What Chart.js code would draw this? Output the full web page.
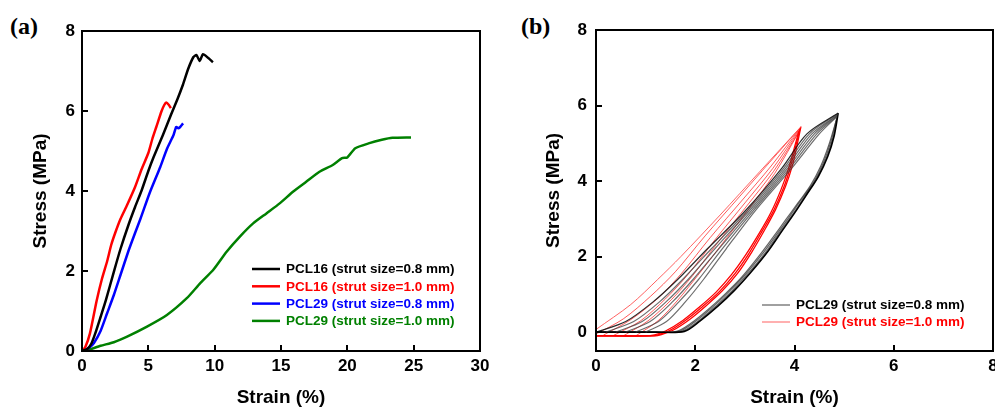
<!DOCTYPE html>
<html lang="en">
<head>
<meta charset="UTF-8">
<title>Stress-strain curves</title>
<script src="https://cdn.jsdelivr.net/npm/chart.js"></script>
<style>
  html, body { margin: 0; padding: 0; background: #fff; overflow: hidden; }
  body { width: 995px; height: 409px; position: relative; }
  .panel { position: absolute; top: 0; height: 409px; }
  #panelA { left: 0; width: 497px; }
  #panelB { left: 497px; width: 520px; }
  .tag { position: absolute; top: 13px; line-height: 24px;
         font: bold 24px "Liberation Serif", "Times New Roman", serif; color: #000; }
</style>
</head>
<body>
<div class="tag" style="left:10px">(a)</div>
<div class="tag" style="left:521px">(b)</div>
<div class="panel" id="panelA"><canvas id="chartA" width="497" height="409"></canvas></div>
<div class="panel" id="panelB"><canvas id="chartB" width="520" height="409"></canvas></div>
<script>
// ---- panel (a): monotonic compression, [strain %, stress MPa]
const labelsA = ['PCL16 (strut size=0.8 mm)', 'PCL16 (strut size=1.0 mm)',
                 'PCL29 (strut size=0.8 mm)', 'PCL29 (strut size=1.0 mm)'];
const pcl16_08 = [[0,0],[0.4,0.05],[0.7,0.18],[1.0,0.44],[1.4,0.85],[1.8,1.27],[2.4,1.98],[2.9,2.55],
  [3.5,3.15],[4.0,3.6],[4.5,4.02],[5.0,4.5],[5.4,4.85],[6.1,5.4],[6.7,5.9],[7.2,6.3],[7.6,6.65],
  [8.0,7.05],[8.4,7.35],[8.63,7.4],[8.87,7.25],[9.12,7.42],[9.5,7.33],[9.87,7.22]];
const pcl16_10 = [[0,0],[0.25,0.1],[0.6,0.44],[1.1,1.25],[1.5,1.8],[1.9,2.25],[2.2,2.65],[2.5,2.95],
  [2.9,3.3],[3.4,3.65],[4.0,4.1],[4.5,4.55],[5.0,4.95],[5.3,5.3],[5.6,5.6],[6.0,6.0],[6.2,6.15],
  [6.35,6.21],[6.55,6.15],[6.7,6.07]];
const pcl29_08 = [[0,0],[0.25,0.03],[0.6,0.1],[0.9,0.2],[1.4,0.5],[1.9,0.95],[2.4,1.4],[2.9,1.9],
  [3.5,2.5],[4.0,2.95],[4.4,3.3],[5.1,3.95],[5.9,4.6],[6.4,5.05],[6.9,5.4],[7.1,5.6],[7.25,5.57],
  [7.4,5.6],[7.62,5.69]];
const pcl29_10 = [[0,0],[0.4,0.02],[1.4,0.13],[2.4,0.22],[3.4,0.36],[4.9,0.61],[6.4,0.9],[7.9,1.32],
  [8.9,1.69],[9.9,2.03],[10.9,2.48],[11.9,2.86],[12.9,3.19],[13.9,3.44],[14.9,3.69],[15.9,3.98],
  [16.9,4.23],[17.9,4.48],[18.9,4.65],[19.6,4.82],[20.0,4.84],[20.6,5.07],[21.6,5.19],[22.6,5.28],
  [23.4,5.33],[24.8,5.34]];
const xTicksA = [0, 5, 10, 15, 20, 25, 30];
const yTicksA = [0, 2, 4, 6, 8];

// ---- panel (b): cyclic loading, PCL29, each cycle = rising branch + falling branch
const labelsB = ['PCL29 (strut size=0.8 mm)', 'PCL29 (strut size=1.0 mm)'];
const cyc08Up = [
  [[0,0],[0.6,0.28],[1.15,0.8],[1.65,1.4],[2.24,2.2],[3.0,3.2],[3.75,4.35],[4.25,5.25],[4.88,5.8]],
  [[0.2,0],[0.76,0.28],[1.28,0.8],[1.75,1.4],[2.32,2.2],[3.04,3.2],[3.79,4.35],[4.3,5.25],[4.87,5.78]],
  [[0.4,0],[0.93,0.28],[1.41,0.8],[1.86,1.4],[2.39,2.2],[3.08,3.2],[3.83,4.35],[4.35,5.25],[4.87,5.76]],
  [[0.6,0],[1.09,0.28],[1.54,0.8],[1.96,1.4],[2.47,2.2],[3.12,3.2],[3.87,4.35],[4.4,5.25],[4.86,5.74]],
  [[0.8,0],[1.26,0.28],[1.67,0.8],[2.07,1.4],[2.54,2.2],[3.16,3.2],[3.91,4.35],[4.45,5.25],[4.86,5.72]],
  [[1.0,0],[1.42,0.28],[1.8,0.8],[2.17,1.4],[2.62,2.2],[3.2,3.2],[3.95,4.35],[4.5,5.25],[4.85,5.7]]
];
const cyc08Down = [
  [[4.88,5.8],[4.8,5.2],[4.67,4.65],[4.48,4.12],[4.25,3.65],[4.0,3.15],[3.75,2.68],[3.47,2.15],
   [3.13,1.6],[2.8,1.12],[2.45,0.68],[2.1,0.3],[1.78,0.02],[1.2,0],[0,0]],
  [[4.86,5.72],[4.77,5.12],[4.63,4.57],[4.44,4.05],[4.2,3.58],[3.95,3.09],[3.69,2.62],[3.41,2.1],
   [3.07,1.56],[2.74,1.09],[2.39,0.66],[2.05,0.28],[1.73,0.02],[1.2,0],[0,0]],
  [[4.85,5.66],[4.73,5.03],[4.58,4.48],[4.38,3.96],[4.13,3.5],[3.88,3.02],[3.62,2.55],[3.34,2.05],
   [3.0,1.51],[2.67,1.06],[2.32,0.63],[1.98,0.26],[1.67,0.02],[1.1,0],[0,0]],
  [[4.84,5.6],[4.69,4.95],[4.53,4.4],[4.32,3.88],[4.07,3.42],[3.81,2.95],[3.55,2.48],[3.27,1.99],
   [2.94,1.46],[2.61,1.02],[2.26,0.6],[1.92,0.24],[1.62,0.02],[1.0,0],[0,0]]
];
const cyc10Up = [
  [[0,0.07],[0.7,0.73],[1.24,1.39],[1.71,2.0],[2.5,3.1],[3.3,4.25],[4.13,5.44]],
  [[0,-0.05],[0.55,0.35],[1.1,0.95],[1.6,1.6],[2.2,2.55],[2.9,3.6],[3.5,4.5],[4.12,5.42]],
  [[0.15,-0.08],[0.7,0.33],[1.25,0.9],[1.72,1.55],[2.3,2.5],[2.95,3.5],[3.53,4.4],[4.11,5.4]],
  [[0.35,-0.09],[0.9,0.3],[1.4,0.88],[1.85,1.52],[2.4,2.45],[3.0,3.42],[3.56,4.33],[4.1,5.36]],
  [[0.55,-0.1],[1.05,0.3],[1.52,0.86],[1.95,1.5],[2.47,2.4],[3.05,3.36],[3.58,4.26],[4.1,5.33]],
  [[0.8,-0.1],[1.25,0.3],[1.65,0.85],[2.05,1.5],[2.55,2.35],[3.1,3.3],[3.6,4.2],[4.09,5.3]]
];
const cyc10Down = [
  [[4.13,5.44],[4.06,5.0],[3.96,4.42],[3.82,3.86],[3.62,3.25],[3.4,2.71],[3.13,2.1],[2.86,1.57],
   [2.55,1.1],[2.22,0.7],[1.9,0.35],[1.55,0.05],[1.3,-0.07],[1.2,-0.1],[0,-0.1]],
  [[4.11,5.38],[4.03,4.95],[3.92,4.38],[3.78,3.82],[3.58,3.22],[3.35,2.68],[3.08,2.08],[2.8,1.55],
   [2.49,1.08],[2.15,0.68],[1.82,0.33],[1.48,0.04],[1.25,-0.07],[1.1,-0.1],[0,-0.1]],
  [[4.09,5.32],[4.0,4.9],[3.88,4.33],[3.73,3.78],[3.53,3.18],[3.3,2.64],[3.02,2.05],[2.73,1.52],
   [2.42,1.06],[2.08,0.66],[1.75,0.31],[1.4,0.03],[1.18,-0.07],[1.0,-0.1],[0,-0.1]]
];
const xTicksB = [0, 2, 4, 6, 8];
const yTicksB = [0, 2, 4, 6, 8];

const FONT = 'Arial, "Liberation Sans", sans-serif';
const tickFont = { family: FONT, size: 17, weight: 'bold' };
const titleFont = { family: FONT, size: 19, weight: 'bold' };

const toPts = arr => arr.map(([x, y]) => ({ x, y }));

function line(data, color, width, tension) {
  return { data: toPts(data), showLine: true, borderColor: color, borderWidth: width,
           pointRadius: 0, tension: tension, fill: false };
}

// box around the plot + inward tick marks
const frameTicks = {
  id: 'frameTicks',
  afterDatasetsDraw(chart) {
    const { ctx, chartArea: a, scales } = chart;
    ctx.save();
    ctx.strokeStyle = '#000';
    ctx.lineWidth = 2;
    ctx.strokeRect(a.left, a.top, a.right - a.left, a.bottom - a.top);
    ctx.beginPath();
    scales.x.ticks.forEach(t => {
      const px = Math.round(scales.x.getPixelForValue(t.value));
      ctx.moveTo(px, a.bottom); ctx.lineTo(px, a.bottom - 6);
    });
    scales.y.ticks.forEach(t => {
      const py = Math.round(scales.y.getPixelForValue(t.value));
      ctx.moveTo(a.left, py); ctx.lineTo(a.left + 6, py);
    });
    ctx.stroke();
    ctx.restore();
  }
};

function innerLegend(items, x, y, rowGap) {
  return {
    id: 'innerLegend',
    afterDraw(chart) {
      const ctx = chart.ctx;
      ctx.save();
      ctx.font = 'bold 13.5px ' + FONT;
      ctx.textBaseline = 'middle';
      items.forEach((it, i) => {
        const yy = y + i * rowGap;
        ctx.strokeStyle = it.line;
        ctx.lineWidth = it.width;
        ctx.beginPath(); ctx.moveTo(x, yy); ctx.lineTo(x + 28, yy); ctx.stroke();
        ctx.fillStyle = it.text;
        ctx.fillText(it.label, x + 34, yy + 0.5);
      });
      ctx.restore();
    }
  };
}

function scales(xr, yr, xt, yt, yWidth, yTitlePad, yTickPad) {
  return {
    x: {
      type: 'linear', min: xr[0], max: xr[1],
      afterBuildTicks: s => { s.ticks = xt.map(v => ({ value: v })); },
      afterFit: s => { s.height = 58; },
      grid: { display: false, drawTicks: false }, border: { display: false },
      ticks: { font: tickFont, color: '#000', padding: 5, maxRotation: 0 },
      title: { display: true, text: 'Strain (%)', font: titleFont, color: '#000', padding: { top: 0, bottom: 0 } }
    },
    y: {
      type: 'linear', min: yr[0], max: yr[1],
      afterBuildTicks: s => { s.ticks = yt.map(v => ({ value: v })); },
      afterFit: s => { s.width = yWidth; },
      grid: { display: false, drawTicks: false }, border: { display: false },
      ticks: { font: tickFont, color: '#000', padding: yTickPad },
      title: { display: true, text: 'Stress (MPa)', font: titleFont, color: '#000', padding: { top: yTitlePad, bottom: 0 } }
    }
  };
}

const baseOpts = { responsive: false, animation: false, events: [],
  plugins: { legend: { display: false }, tooltip: { enabled: false } } };

// panel (a)
const colorsA = ['#000000', '#ff0000', '#0000ff', '#008000'];
new Chart(document.getElementById('chartA'), {
  type: 'scatter',
  data: { datasets: [pcl16_08, pcl16_10, pcl29_08, pcl29_10].map((d, i) =>
    Object.assign(line(d, colorsA[i], 2.5, 0.2), { label: labelsA[i] })) },
  options: Object.assign({}, baseOpts, {
    layout: { padding: { top: 31, right: 17, left: 0, bottom: 0 } },
    scales: scales([0, 30], [0, 8], xTicksA, yTicksA, 82, 29, 7)
  }),
  plugins: [frameTicks, innerLegend(labelsA.map((l, i) => ({ label: l, line: colorsA[i], text: colorsA[i], width: 2.5 })), 252, 269, 17.3)]
});

// panel (b)
const setsB = [];
cyc08Up.forEach((c, i) => setsB.push(line(c, i === 0 ? 'rgba(20,20,20,0.9)' : 'rgba(60,60,60,0.75)', 1.2, 0.3)));
cyc08Down.forEach((c, i) => setsB.push(line(c, i === 0 ? '#000000' : 'rgba(60,60,60,0.8)', i === 0 ? 1.6 : 1.2, 0.3)));
cyc10Up.forEach((c, i) => setsB.push(line(c, i === 0 ? 'rgba(255,70,70,0.85)' : 'rgba(255,0,0,0.65)', 1, 0.3)));
cyc10Down.forEach(c => setsB.push(line(c, '#ff0000', 1.3, 0.3)));
setsB[0].label = labelsB[0];
setsB[cyc08Up.length + cyc08Down.length].label = labelsB[1];

new Chart(document.getElementById('chartB'), {
  type: 'scatter',
  data: { datasets: setsB },
  options: Object.assign({}, baseOpts, {
    layout: { padding: { top: 30, right: 24, left: 0, bottom: 0 } },
    scales: scales([0, 8], [-0.5, 8], xTicksB, yTicksB, 99, 45, 9)
  }),
  plugins: [frameTicks, innerLegend([
    { label: labelsB[0], line: '#808080', text: '#000000', width: 1.5 },
    { label: labelsB[1], line: 'rgba(255,80,80,0.9)', text: '#ff0000', width: 1 }
  ], 265, 305, 17)]
});
</script>
</body>
</html>
